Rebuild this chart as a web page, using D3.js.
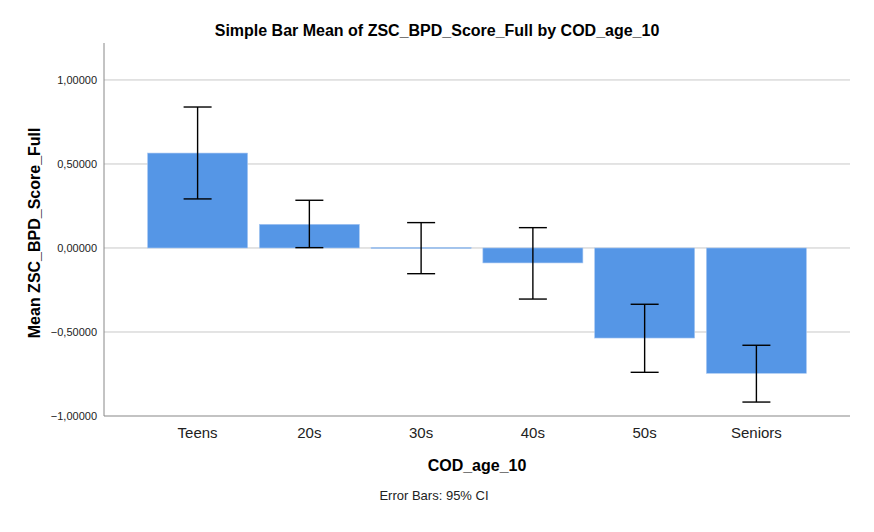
<!DOCTYPE html>
<html>
<head>
<meta charset="utf-8">
<script src="https://cdn.jsdelivr.net/npm/d3@7"></script>
<style>
  body { margin: 0; background: #fff; }
  text { font-family: "Liberation Sans", Arial, sans-serif; }
</style>
</head>
<body>
<div id="chart"></div>
<script>
// data
var groups = ["Teens", "20s", "30s", "40s", "50s", "Seniors"];
var means = [0.565, 0.141, 0.003, -0.089, -0.536, -0.746];
var ciLow = [0.292, 0.002, -0.153, -0.304, -0.740, -0.917];
var ciHigh = [0.839, 0.284, 0.151, 0.121, -0.335, -0.579];
var yTicks = [-1, -0.5, 0, 0.5, 1];

var W = 874, H = 532;
var margin = {left: 104, right: 24, top: 43, bottom: 116};

var svg = d3.select("#chart").append("svg")
  .attr("width", W).attr("height", H);

var x = d3.scaleBand()
  .domain(groups)
  .range([margin.left, W - margin.right])
  .paddingInner(0.105)
  .paddingOuter(0.39);

var y = d3.scaleLinear()
  .domain([-1, 1.22])
  .range([H - margin.bottom, margin.top]);

var fmt = function(v) { return d3.format(".5f")(v).replace(".", ","); };

// grid lines
svg.append("g").selectAll("line")
  .data(yTicks.filter(function(d) { return d !== -1; }))
  .join("line")
    .attr("x1", margin.left).attr("x2", W - margin.right)
    .attr("y1", function(d) { return y(d); })
    .attr("y2", function(d) { return y(d); })
    .attr("stroke", "#c8c8c8").attr("stroke-width", 1);

// y tick labels
svg.append("g").selectAll("text")
  .data(yTicks)
  .join("text")
    .attr("x", margin.left - 7)
    .attr("y", function(d) { return y(d) + 4; })
    .attr("text-anchor", "end")
    .attr("font-size", 11)
    .attr("fill", "#222")
    .text(fmt);

// bars
svg.append("g").selectAll("rect")
  .data(groups)
  .join("rect")
    .attr("x", function(d) { return x(d); })
    .attr("width", x.bandwidth())
    .attr("y", function(d, i) { return y(Math.max(0, means[i])); })
    .attr("height", function(d, i) { return Math.max(1, Math.abs(y(means[i]) - y(0))); })
    .attr("fill", "#5596e6")
    .attr("stroke", "#a9c8f2").attr("stroke-width", 0.6);

// error bars
var eb = svg.append("g").attr("stroke", "#000").attr("stroke-width", 1.4);
var cap = 14;
groups.forEach(function(g, i) {
  var cx = x(g) + x.bandwidth() / 2;
  eb.append("line").attr("x1", cx).attr("x2", cx)
    .attr("y1", y(ciHigh[i])).attr("y2", y(ciLow[i]));
  eb.append("line").attr("x1", cx - cap).attr("x2", cx + cap)
    .attr("y1", y(ciHigh[i])).attr("y2", y(ciHigh[i]));
  eb.append("line").attr("x1", cx - cap).attr("x2", cx + cap)
    .attr("y1", y(ciLow[i])).attr("y2", y(ciLow[i]));
});

// axis lines
svg.append("line")
  .attr("x1", margin.left).attr("x2", margin.left)
  .attr("y1", margin.top).attr("y2", y(-1))
  .attr("stroke", "#888").attr("stroke-width", 1);
svg.append("line")
  .attr("x1", margin.left).attr("x2", W - margin.right)
  .attr("y1", y(-1)).attr("y2", y(-1))
  .attr("stroke", "#888").attr("stroke-width", 1.2);

// x tick labels
svg.append("g").selectAll("text")
  .data(groups)
  .join("text")
    .attr("x", function(d) { return x(d) + x.bandwidth() / 2; })
    .attr("y", y(-1) + 22)
    .attr("text-anchor", "middle")
    .attr("font-size", 15)
    .attr("fill", "#222")
    .text(function(d) { return d; });

// titles
svg.append("text")
  .attr("x", 437).attr("y", 36)
  .attr("text-anchor", "middle")
  .attr("font-size", 16).attr("font-weight", "bold")
  .text("Simple Bar Mean of ZSC_BPD_Score_Full by COD_age_10");

svg.append("text")
  .attr("x", (margin.left + W - margin.right) / 2).attr("y", 471)
  .attr("text-anchor", "middle")
  .attr("font-size", 16).attr("font-weight", "bold")
  .text("COD_age_10");

svg.append("text")
  .attr("transform", "translate(40," + y(0.09) + ") rotate(-90)")
  .attr("text-anchor", "middle")
  .attr("font-size", 16).attr("font-weight", "bold")
  .text("Mean ZSC_BPD_Score_Full");

svg.append("text")
  .attr("x", 434).attr("y", 500)
  .attr("text-anchor", "middle")
  .attr("font-size", 13)
  .attr("fill", "#222")
  .text("Error Bars: 95% CI");
</script>
</body>
</html>
